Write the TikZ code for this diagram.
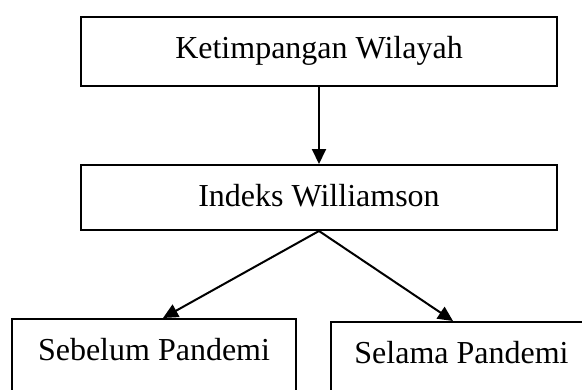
\documentclass[tikz,border=0pt]{standalone}
\usepackage{fontspec}
\setmainfont{Liberation Serif}
\usetikzlibrary{arrows.meta}
\begin{document}
\begin{tikzpicture}[x=1pt,y=-1pt,
  box/.style={draw, line width=2pt, inner xsep=0pt, inner ysep=12pt, text height=29pt,
    font=\fontsize{32}{38}\selectfont, anchor=north},
  arr/.style={line width=2pt, -{Triangle[length=15pt,width=14pt]}}]
\clip (0,0) rectangle (582,389);
\fill[white] (0,0) rectangle (582,389);
\node[box, minimum width=476pt, text depth=16pt] (top) at (319,16) {Ketimpangan Wilayah};
\node[box, minimum width=476pt, text depth=12pt] (mid) at (319,164) {Indeks Williamson};
\node[box, minimum width=284pt, text depth=60pt] (left) at (154,318) {Sebelum Pandemi};
\node[box, minimum width=261pt, text depth=60pt] (right) at (461.5,321) {Selama Pandemi};
\draw[arr] (top.south) -- (mid.north);
\draw[arr] (mid.south) -- ([xshift=9pt]left.north);
\draw[arr] (mid.south) -- ([xshift=-8.5pt]right.north);
\end{tikzpicture}
\end{document}
